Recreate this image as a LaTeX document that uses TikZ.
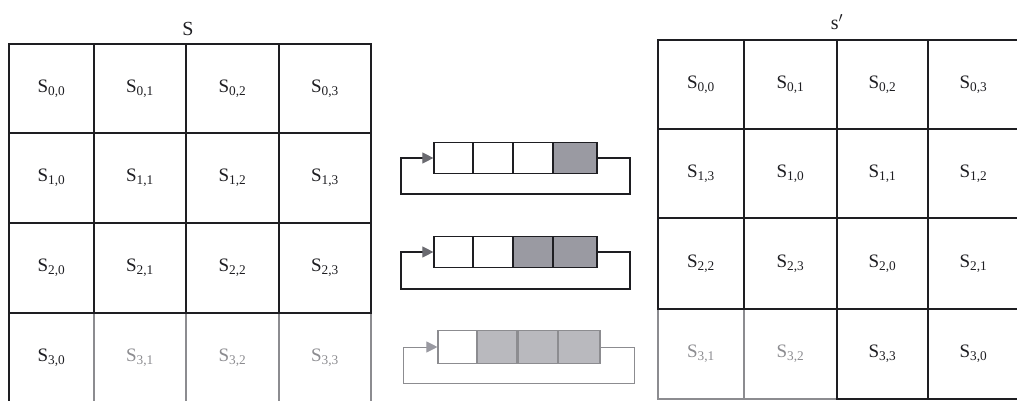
\documentclass[tikz,border=0pt]{standalone}
\usepackage{fontspec}
\setmainfont{Liberation Serif}
\usetikzlibrary{arrows.meta}
\definecolor{ink}{HTML}{1E1E22}
\definecolor{faint}{HTML}{8C8C90}
\definecolor{shade}{HTML}{9A9AA2}
\definecolor{shadel}{HTML}{B9B9BE}
\definecolor{tip}{HTML}{6A6A70}
\newcommand\cel[7]{\node[cell,#7,minimum width={#4pt-#2pt},minimum height={#5pt-#3pt}] (#1) at ({(#2+#4)/2},{(#3+#5)/2}) {#6};}
\newcommand\Sx[2]{S\textsubscript{#1,#2}}
\begin{document}
\begin{tikzpicture}[x=1pt,y=-1pt,
  cell/.style={draw=ink, line width=1.4pt, inner sep=0pt, text=ink, font=\fontsize{19}{19}\selectfont},
  dim/.style={draw=faint, text=faint},
  title/.style={inner sep=0pt, text=ink, font=\fontsize{20}{20}\selectfont},
  slot/.style={draw=ink, line width=1.2pt, minimum width=40pt, minimum height=31pt, inner sep=0pt, fill=white},
  fslot/.style={draw=faint, line width=1.1pt, minimum width=40pt, minimum height=33pt, inner sep=0pt, fill=white},
  loopline/.style={draw=ink, line width=1.1pt, -{Triangle[length=11pt,width=11pt,color=tip]}},
  floopline/.style={draw=faint, line width=1pt, -{Triangle[length=11pt,width=11pt,color=shade]}}]
\useasboundingbox (0,0) rectangle (1017,401);
% titles
\node[title] (tS) at (188,29) {S};
\node[title] (tT) at (837,22) {s$'$};
% left grid: bottom row first (faint), then upper rows
\cel{a30}{9}{313}{94}{403}{\Sx{3}{0}}{}
\cel{a31}{94}{313}{186}{403}{\Sx{3}{1}}{dim}
\cel{a32}{186}{313}{279}{403}{\Sx{3}{2}}{dim}
\cel{a33}{279}{313}{371}{403}{\Sx{3}{3}}{dim}
\cel{a00}{9}{44}{94}{133}{\Sx{0}{0}}{}
\cel{a01}{94}{44}{186}{133}{\Sx{0}{1}}{}
\cel{a02}{186}{44}{279}{133}{\Sx{0}{2}}{}
\cel{a03}{279}{44}{371}{133}{\Sx{0}{3}}{}
\cel{a10}{9}{133}{94}{223}{\Sx{1}{0}}{}
\cel{a11}{94}{133}{186}{223}{\Sx{1}{1}}{}
\cel{a12}{186}{133}{279}{223}{\Sx{1}{2}}{}
\cel{a13}{279}{133}{371}{223}{\Sx{1}{3}}{}
\cel{a20}{9}{223}{94}{313}{\Sx{2}{0}}{}
\cel{a21}{94}{223}{186}{313}{\Sx{2}{1}}{}
\cel{a22}{186}{223}{279}{313}{\Sx{2}{2}}{}
\cel{a23}{279}{223}{371}{313}{\Sx{2}{3}}{}
% right grid
\cel{b30}{658}{309}{744}{399}{\Sx{3}{1}}{dim}
\cel{b31}{744}{309}{837}{399}{\Sx{3}{2}}{dim}
\cel{b32}{837}{309}{928}{399}{\Sx{3}{3}}{}
\cel{b33}{928}{309}{1019}{399}{\Sx{3}{0}}{}
\cel{b00}{658}{40}{744}{129}{\Sx{0}{0}}{}
\cel{b01}{744}{40}{837}{129}{\Sx{0}{1}}{}
\cel{b02}{837}{40}{928}{129}{\Sx{0}{2}}{}
\cel{b03}{928}{40}{1019}{129}{\Sx{0}{3}}{}
\cel{b10}{658}{129}{744}{218}{\Sx{1}{3}}{}
\cel{b11}{744}{129}{837}{218}{\Sx{1}{0}}{}
\cel{b12}{837}{129}{928}{218}{\Sx{1}{1}}{}
\cel{b13}{928}{129}{1019}{218}{\Sx{1}{2}}{}
\cel{b20}{658}{218}{744}{309}{\Sx{2}{2}}{}
\cel{b21}{744}{218}{837}{309}{\Sx{2}{3}}{}
\cel{b22}{837}{218}{928}{309}{\Sx{2}{0}}{}
\cel{b23}{928}{218}{1019}{309}{\Sx{2}{1}}{}
% middle shift registers
\node[slot] (r1c1) at (454,158) {};
\node[slot] (r1c2) at (493,158) {};
\node[slot] (r1c3) at (533,158) {};
\node[slot,fill=shade,minimum width=44pt] (r1c4) at (575,158) {};
\coordinate (l1a) at (630,194);
\coordinate (l1b) at (401,194);
\draw[loopline] (r1c4.east) -| (l1a) -- (l1b) |- (r1c1.west);
\node[slot] (r2c1) at (454,252) {};
\node[slot] (r2c2) at (493,252) {};
\node[slot,fill=shade] (r2c3) at (533,252) {};
\node[slot,fill=shade,minimum width=44pt] (r2c4) at (575,252) {};
\coordinate (l2a) at (630,289);
\coordinate (l2b) at (401,289);
\draw[loopline] (r2c4.east) -| (l2a) -- (l2b) |- (r2c1.west);
\node[fslot] (r3c1) at (458,347) {};
\node[fslot,fill=shadel] (r3c2) at (497,347) {};
\node[fslot,fill=shadel] (r3c3) at (538,347) {};
\node[fslot,fill=shadel,minimum width=42pt] (r3c4) at (579,347) {};
\coordinate (l3a) at (634,383);
\coordinate (l3b) at (403,383);
\draw[floopline] (r3c4.east) -| (l3a) -- (l3b) |- (r3c1.west);
\end{tikzpicture}
\end{document}
